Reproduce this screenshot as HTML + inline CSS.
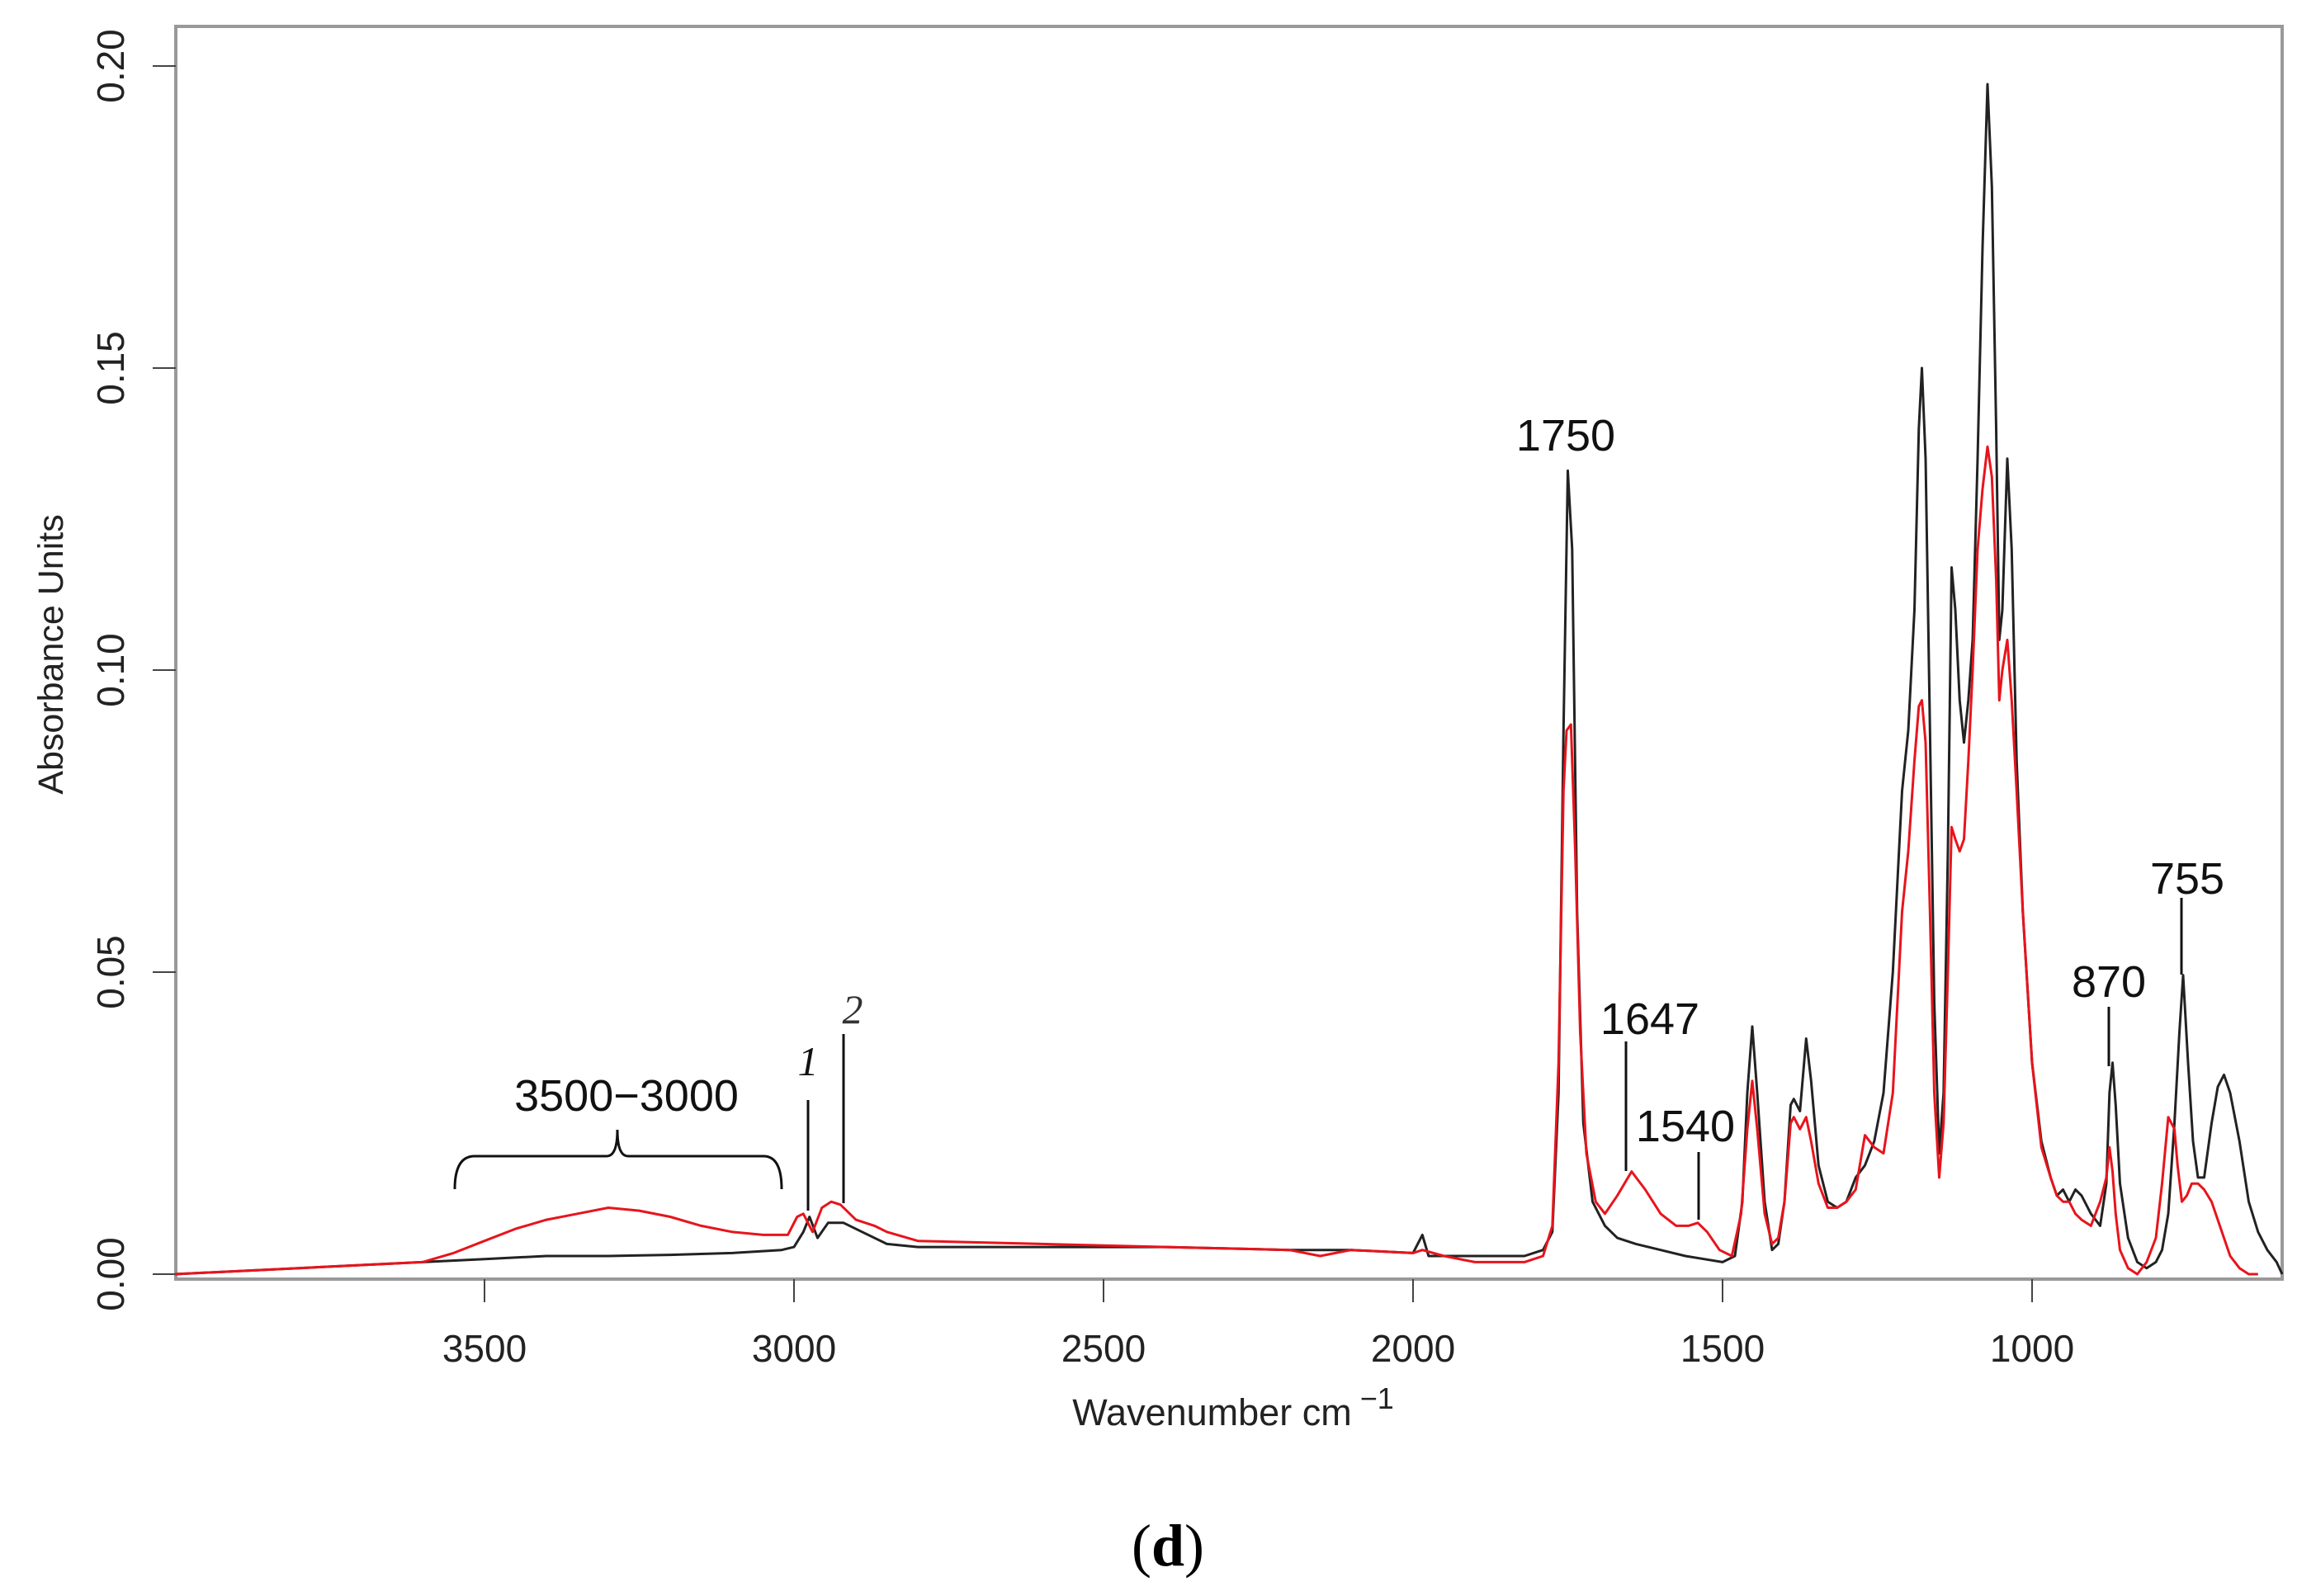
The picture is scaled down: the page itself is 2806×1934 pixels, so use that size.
<!DOCTYPE html>
<html><head><meta charset="utf-8"><style>
html,body{margin:0;padding:0;background:#fff;}
svg{display:block;font-family:"Liberation Sans",sans-serif;}
</style></head><body>
<svg id="chart" width="2806" height="1934" viewBox="0 0 2806 1934" xmlns="http://www.w3.org/2000/svg">
<rect x="0" y="0" width="2806" height="1934" fill="#fff"/>
<g id="plot"></g>
<text x="0" y="0" transform="translate(76,793) rotate(-90)" text-anchor="middle" font-size="43" fill="#222">Absorbance Units</text>
<text x="1494" y="1727" text-anchor="middle" font-size="45" fill="#222">Wavenumber cm<tspan dy="-20" font-size="36"> −1</tspan></text>
<text x="1415" y="1897" text-anchor="middle" font-size="72" font-family="Liberation Serif, serif" fill="#000">(<tspan font-weight="bold">d</tspan>)</text>
</svg>
<script>
const xTicks=[3500,3000,2500,2000,1500,1000];
const yTicks=[0.00,0.05,0.10,0.15,0.20];
const yTickLabels=["0.00","0.05","0.10","0.15","0.20"];
const blackWn=[4000,3800,3600,3500,3400,3300,3200,3100,3020,3000,2985,2975,2962,2945,2920,2890,2850,2800,2600,2400,2200,2100,2000,1985,1975,1950,1900,1820,1790,1775,1765,1757,1750,1743,1735,1725,1710,1690,1670,1640,1600,1560,1530,1500,1480,1468,1460,1452,1444,1432,1420,1410,1400,1390,1385,1375,1365,1357,1345,1330,1315,1300,1285,1270,1255,1240,1225,1210,1200,1190,1183,1178,1172,1165,1158,1150,1143,1136,1130,1124,1117,1110,1103,1096,1088,1080,1072,1065,1058,1053,1048,1040,1033,1025,1015,1000,985,970,960,950,940,930,920,905,890,880,875,870,865,858,845,830,815,800,790,780,770,762,756,748,740,732,722,710,700,690,680,665,650,635,620,605,596];
const blackAb=[0.000,0.001,0.002,0.0025,0.003,0.003,0.0032,0.0035,0.004,0.0045,0.007,0.0095,0.006,0.0085,0.0085,0.007,0.005,0.0045,0.0045,0.0045,0.004,0.004,0.0035,0.0065,0.003,0.003,0.003,0.003,0.004,0.007,0.03,0.09,0.133,0.12,0.06,0.025,0.012,0.008,0.006,0.005,0.004,0.003,0.0025,0.002,0.003,0.012,0.03,0.041,0.03,0.012,0.004,0.005,0.012,0.028,0.029,0.027,0.039,0.032,0.018,0.012,0.011,0.012,0.016,0.018,0.022,0.03,0.05,0.08,0.09,0.11,0.14,0.15,0.135,0.09,0.045,0.02,0.03,0.07,0.117,0.11,0.095,0.088,0.095,0.105,0.135,0.17,0.197,0.18,0.14,0.105,0.11,0.135,0.12,0.085,0.06,0.035,0.022,0.016,0.013,0.014,0.012,0.014,0.013,0.01,0.008,0.015,0.03,0.035,0.028,0.015,0.006,0.002,0.001,0.002,0.004,0.01,0.025,0.04,0.0495,0.035,0.022,0.016,0.016,0.025,0.031,0.033,0.03,0.022,0.012,0.007,0.004,0.002,0.000];
const redWn=[4000,3800,3600,3550,3500,3450,3400,3350,3300,3250,3200,3150,3100,3050,3010,2995,2985,2970,2955,2940,2925,2900,2870,2850,2800,2600,2400,2200,2150,2100,2000,1985,1950,1900,1820,1790,1775,1765,1757,1752,1745,1738,1730,1720,1705,1690,1670,1647,1625,1600,1575,1555,1540,1525,1505,1485,1470,1460,1452,1444,1432,1420,1410,1400,1390,1385,1375,1365,1357,1345,1330,1315,1300,1285,1270,1255,1240,1225,1210,1200,1190,1183,1178,1172,1165,1158,1150,1143,1136,1130,1124,1117,1110,1103,1096,1088,1080,1072,1065,1058,1053,1048,1040,1033,1025,1015,1000,985,970,960,950,940,930,920,905,890,880,875,870,865,858,845,830,815,800,790,780,770,765,758,750,742,732,722,710,700,690,680,665,650,635,620,605,596];
const redAb=[0.000,0.001,0.002,0.0035,0.0055,0.0075,0.009,0.010,0.011,0.0105,0.0095,0.008,0.007,0.0065,0.0065,0.0095,0.01,0.007,0.011,0.012,0.0115,0.009,0.008,0.007,0.0055,0.005,0.0045,0.004,0.003,0.004,0.0035,0.004,0.003,0.002,0.002,0.003,0.008,0.035,0.08,0.09,0.091,0.07,0.04,0.02,0.012,0.01,0.013,0.017,0.014,0.01,0.008,0.008,0.0085,0.007,0.004,0.003,0.01,0.024,0.032,0.024,0.01,0.005,0.006,0.012,0.025,0.026,0.024,0.026,0.022,0.015,0.011,0.011,0.012,0.014,0.023,0.021,0.02,0.03,0.06,0.07,0.085,0.094,0.095,0.088,0.06,0.03,0.016,0.025,0.05,0.074,0.072,0.07,0.072,0.085,0.1,0.12,0.13,0.137,0.132,0.115,0.095,0.1,0.105,0.095,0.08,0.06,0.035,0.021,0.016,0.013,0.012,0.012,0.01,0.009,0.008,0.012,0.016,0.021,0.017,0.01,0.004,0.001,0.000,0.002,0.006,0.015,0.026,0.024,0.018,0.012,0.013,0.015,0.015,0.014,0.012,0.009,0.006,0.003,0.001,0.000,0.000];

const X0=213,X1=2765,Y0=32,Y1=1550;
function xs(w){return 587+(3500-w)*0.75;}
function ys(a){return 1544-a*7320;}
const NS="http://www.w3.org/2000/svg";
const plot=document.getElementById('plot');
function mk(tag,attrs,parent){const e=document.createElementNS(NS,tag);for(const k in attrs)e.setAttribute(k,attrs[k]);(parent||plot).appendChild(e);return e;}

const frame=mk('rect',{x:X0,y:Y0,width:X1-X0,height:Y1-Y0,fill:'none',stroke:'#999','stroke-width':4});



xTicks.forEach(function(t){
  const ln=mk('line',{x1:xs(t),x2:xs(t),y1:Y1,y2:Y1+28,stroke:'#444','stroke-width':2});
  
  
  const tx=mk('text',{x:xs(t),y:1650,'text-anchor':'middle','font-size':46,fill:'#222'});
  tx.textContent=String(t);
  
  
});
yTicks.forEach(function(t,i){
  const ln=mk('line',{x1:X0-28,x2:X0,y1:ys(t),y2:ys(t),stroke:'#444','stroke-width':2});
  
  
  const tx=mk('text',{x:0,y:0,transform:'translate(150,'+ys(t)+') rotate(-90)','text-anchor':'middle','font-size':46,fill:'#222'});
  tx.textContent=yTickLabels[i];
  
  
});

function series(wn,ab,color,name){
  let d='';
  for(let i=0;i<wn.length;i++){d+=(i?'L':'M')+xs(wn[i]).toFixed(1)+','+ys(ab[i]).toFixed(1);}
  const p=mk('path',{d:d,fill:'none',stroke:color,'stroke-width':3,'stroke-linejoin':'round'});
  
  
}
series(blackWn,blackAb,'#222','series-black');
series(redWn,redAb,'#e8141c','series-red');

// annotations
const notes=[["1750",1897,546,null],["1647",1999,1253,[1970,1262,1419]],["1540",2042,1383,[2058,1396,1478]],["870",2555,1208,[2555,1220,1292]],["755",2650,1083,[2643,1088,1181]]];
notes.forEach(function(n){
  const t=mk('text',{x:n[1],y:n[2],'text-anchor':'middle','font-size':54,fill:'#111'});
  t.textContent=n[0];
  
  
  if(n[3]){
    const l=mk('line',{x1:n[3][0],x2:n[3][0],y1:n[3][1],y2:n[3][2],stroke:'#111','stroke-width':3});
    
    
  }
});
const br=mk('path',{d:'M551,1441 Q551,1401 575,1401 L735,1401 Q748,1401 748,1369 Q748,1401 761,1401 L925,1401 Q947,1401 947,1441',fill:'none',stroke:'#111','stroke-width':3});


const rt=mk('text',{x:759,y:1346,'text-anchor':'middle','font-size':54,fill:'#111'});
rt.textContent='3500−3000';


const l1=mk('line',{x1:979,x2:979,y1:1333,y2:1467,stroke:'#111','stroke-width':3});


const t1=mk('text',{x:979,y:1303,'text-anchor':'middle','font-size':50,'font-style':'italic','font-family':'Liberation Serif, serif',fill:'#111'});
t1.textContent='1';


const l2=mk('line',{x1:1022,x2:1022,y1:1253,y2:1458,stroke:'#111','stroke-width':3});


const t2=mk('text',{x:1033,y:1240,'text-anchor':'middle','font-size':50,'font-style':'italic','font-family':'Liberation Serif, serif',fill:'#333'});
t2.textContent='2';


</script>
</body></html>
